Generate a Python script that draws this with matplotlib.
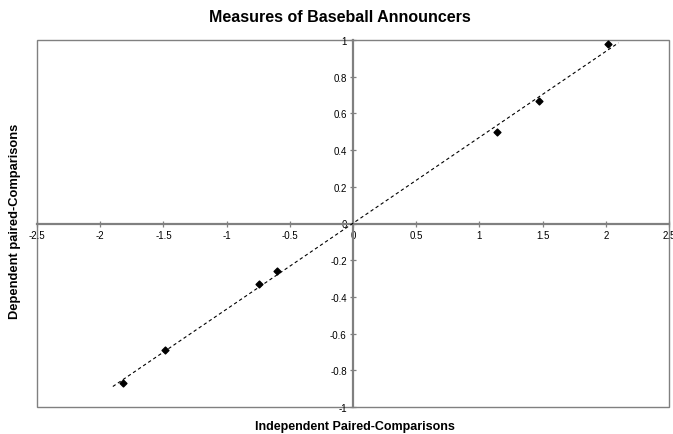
import matplotlib

matplotlib.use("Agg")
import matplotlib.pyplot as plt
import numpy as np
from matplotlib.patches import Rectangle
from matplotlib.ticker import FuncFormatter

plt.rcParams["font.family"] = ["Liberation Sans", "DejaVu Sans"]

TITLE = "Measures of Baseball Announcers"
X_LABEL = "Independent Paired-Comparisons"
Y_LABEL = "Dependent paired-Comparisons"

independent = [-1.82, -1.49, -0.74, -0.60, 1.14, 1.47, 2.02]
dependent = [-0.87, -0.69, -0.33, -0.26, 0.50, 0.67, 0.98]

x_ticks = [-2.5, -2, -1.5, -1, -0.5, 0, 0.5, 1, 1.5, 2, 2.5]
y_ticks = [-1, -0.8, -0.6, -0.4, -0.2, 0, 0.2, 0.4, 0.6, 0.8, 1]


def _general(v, _pos=None):
    return f"{v:g}"


def main() -> None:
    fig = plt.figure(figsize=(6.73, 4.35), dpi=100)
    ax = fig.add_axes([37 / 673, 1 - 408 / 435, 632 / 673, 367 / 435])

    x = np.asarray(independent)
    y = np.asarray(dependent)
    slope, intercept = np.polyfit(x, y, 1)
    line_x = np.array([x.min() - 0.08, x.max() + 0.08])
    ax.plot(line_x, slope * line_x + intercept, color="black", lw=0.8,
            linestyle=(0, (3, 2.5)), zorder=3)
    ax.scatter(x, y, marker="D", s=12, color="black", zorder=4)

    ax.set_xlim(-2.5, 2.5)
    ax.set_ylim(-1, 1)
    ax.set_xticks(x_ticks)
    ax.set_yticks(y_ticks)
    ax.xaxis.set_major_formatter(FuncFormatter(_general))
    ax.yaxis.set_major_formatter(FuncFormatter(_general))

    for side in ("top", "right"):
        ax.spines[side].set_visible(False)
    for side in ("left", "bottom"):
        ax.spines[side].set_position(("data", 0))
        ax.spines[side].set_color("#808080")
        ax.spines[side].set_linewidth(1.6)
        ax.spines[side].set_zorder(2)
    ax.tick_params(axis="both", direction="inout", length=5, width=0.9,
                   color="#808080", labelsize=7, labelcolor="black", pad=2)

    frame = Rectangle((0, 0), 1, 1, transform=ax.transAxes, fill=False,
                      edgecolor="#808080", lw=1.0, clip_on=False, zorder=1)
    ax.add_patch(frame)

    fig.text(340 / 673, 1 - 17 / 435, TITLE, ha="center", va="center",
             fontsize=11.5, fontweight="bold")
    fig.text(355 / 673, 1 - 427 / 435, X_LABEL, ha="center", va="center",
             fontsize=9, fontweight="bold")
    fig.text(15 / 673, 1 - 221 / 435, Y_LABEL, ha="center", va="center",
             rotation=90, fontsize=9.3, fontweight="bold")

    fig.savefig("out.png", dpi=100)
    plt.close(fig)


if __name__ == "__main__":
    main()
